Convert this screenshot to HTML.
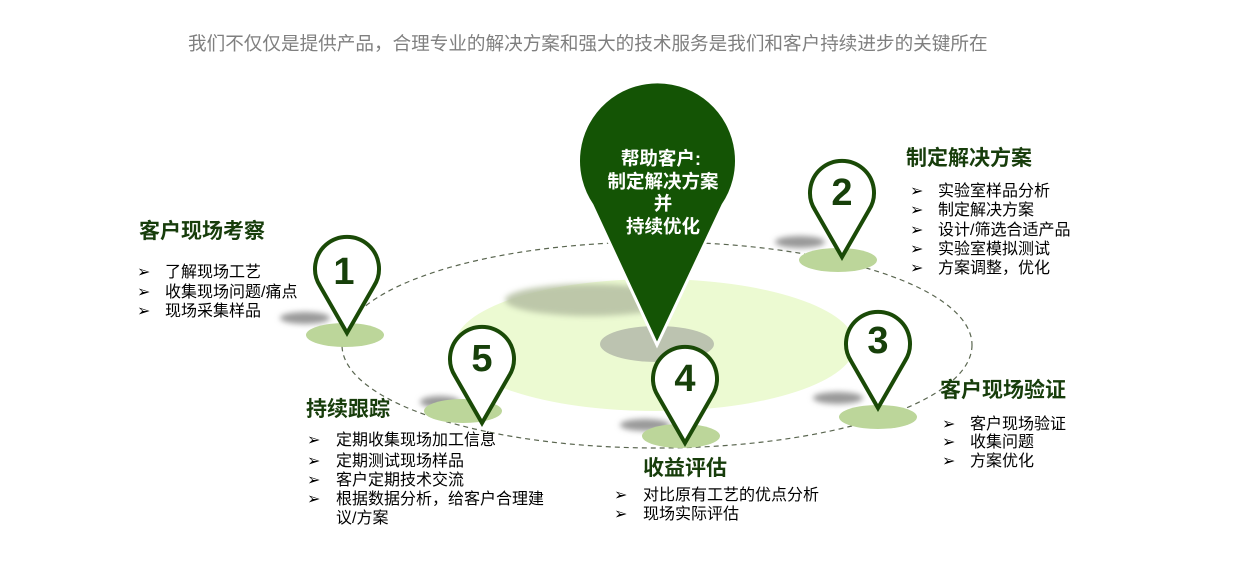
<!DOCTYPE html>
<html><head><meta charset="utf-8"><style>
body{margin:0;width:1235px;height:572px;background:#fff;overflow:hidden;font-family:"Liberation Sans","Noto Sans CJK SC",sans-serif;}
svg{position:absolute;left:0;top:0}
</style></head><body>
<svg width="1235" height="572" viewBox="0 0 1235 572" font-family="Liberation Sans, Noto Sans CJK SC, sans-serif">
<defs>
<filter id="b" x="-50%" y="-50%" width="200%" height="200%"><feGaussianBlur stdDeviation="3"/></filter>
<symbol id="pin" overflow="visible">
<path d="M0,65 L-27,18 A32,32 0 1 1 27,18 Z" fill="#fff" stroke="#1a4a07" stroke-width="4" stroke-linejoin="miter"/>
</symbol>
</defs>
<text x="188" y="50" font-size="18.6" fill="#7f7f7f">我们不仅仅是提供产品，合理专业的解决方案和强大的技术服务是我们和客户持续进步的关键所在</text>
<ellipse cx="655" cy="345" rx="200" ry="66" fill="#ecfad2"/>
<ellipse cx="590" cy="300" rx="85" ry="16" fill="#b8c2a5" filter="url(#b)" opacity="0.9"/>
<ellipse cx="657" cy="344" rx="57" ry="18" fill="#bcc3b0"/>
<ellipse cx="657" cy="345" rx="315" ry="103" fill="none" stroke="#5a6650" stroke-width="1.2" stroke-dasharray="5,4"/>
<ellipse cx="305" cy="318" rx="25" ry="6" fill="#999" filter="url(#b)"/>
<ellipse cx="800" cy="242" rx="25" ry="6" fill="#999" filter="url(#b)"/>
<ellipse cx="838" cy="398" rx="25" ry="6" fill="#999" filter="url(#b)"/>
<ellipse cx="645" cy="425" rx="25" ry="6" fill="#999" filter="url(#b)"/>
<ellipse cx="440" cy="402" rx="20" ry="6" fill="#999" filter="url(#b)"/>
<ellipse cx="345" cy="335" rx="39" ry="12" fill="#bcd69a"/>
<ellipse cx="838" cy="260" rx="39" ry="12" fill="#bcd69a"/>
<ellipse cx="878" cy="417" rx="39" ry="12" fill="#bcd69a"/>
<ellipse cx="681" cy="436" rx="39" ry="12" fill="#bcd69a"/>
<ellipse cx="463" cy="411" rx="39" ry="12" fill="#bcd69a"/>
<path d="M657,345 L592,205 A79,79 0 1 1 723,205 Z" fill="#145405" stroke="#fff" stroke-width="3"/>
<g fill="#fff" font-weight="bold" font-size="18.5" text-anchor="middle">
<text x="661" y="165">帮助客户:</text>
<text x="663" y="188">制定解决方案</text>
<text x="663" y="210">并</text>
<text x="663" y="233">持续优化</text>
</g>
<use href="#pin" x="347" y="268"/>
<use href="#pin" x="842" y="192"/>
<use href="#pin" x="878" y="343"/>
<use href="#pin" x="685" y="378"/>
<use href="#pin" x="482" y="358"/>
<g fill="#17400a" font-weight="bold" font-size="38" text-anchor="middle">
<text x="344" y="284">1</text>
<text x="842" y="205">2</text>
<text x="878" y="353">3</text>
<text x="685" y="391">4</text>
<text x="482" y="371">5</text>
</g>
<g fill="#173d0b" font-weight="bold" font-size="21">
<text x="139" y="238">客户现场考察</text>
<text x="906" y="165">制定解决方案</text>
<text x="940" y="397">客户现场验证</text>
<text x="306" y="416">持续跟踪</text>
<text x="643" y="475">收益评估</text>
</g>
<g font-size="16" fill="#000">
<text x="137" y="277">➢</text><text x="165" y="277">了解现场工艺</text>
<text x="137" y="297">➢</text><text x="165" y="297">收集现场问题/痛点</text>
<text x="137" y="316">➢</text><text x="165" y="316">现场采集样品</text>
<text x="910" y="196">➢</text><text x="938" y="196">实验室样品分析</text>
<text x="910" y="215">➢</text><text x="938" y="215">制定解决方案</text>
<text x="910" y="235">➢</text><text x="938" y="235">设计/筛选合适产品</text>
<text x="910" y="254">➢</text><text x="938" y="254">实验室模拟测试</text>
<text x="910" y="273">➢</text><text x="938" y="273">方案调整，优化</text>
<text x="942" y="429">➢</text><text x="970" y="429">客户现场验证</text>
<text x="942" y="447">➢</text><text x="970" y="447">收集问题</text>
<text x="942" y="466">➢</text><text x="970" y="466">方案优化</text>
<text x="307" y="445">➢</text><text x="336" y="445">定期收集现场加工信息</text>
<text x="307" y="466">➢</text><text x="336" y="466">定期测试现场样品</text>
<text x="307" y="485">➢</text><text x="336" y="485">客户定期技术交流</text>
<text x="307" y="504">➢</text><text x="336" y="504">根据数据分析，给客户合理建</text>
<text x="336" y="523">议/方案</text>
<text x="614" y="500">➢</text><text x="643" y="500">对比原有工艺的优点分析</text>
<text x="614" y="519">➢</text><text x="643" y="519">现场实际评估</text>
</g>
</svg>
</body></html>
